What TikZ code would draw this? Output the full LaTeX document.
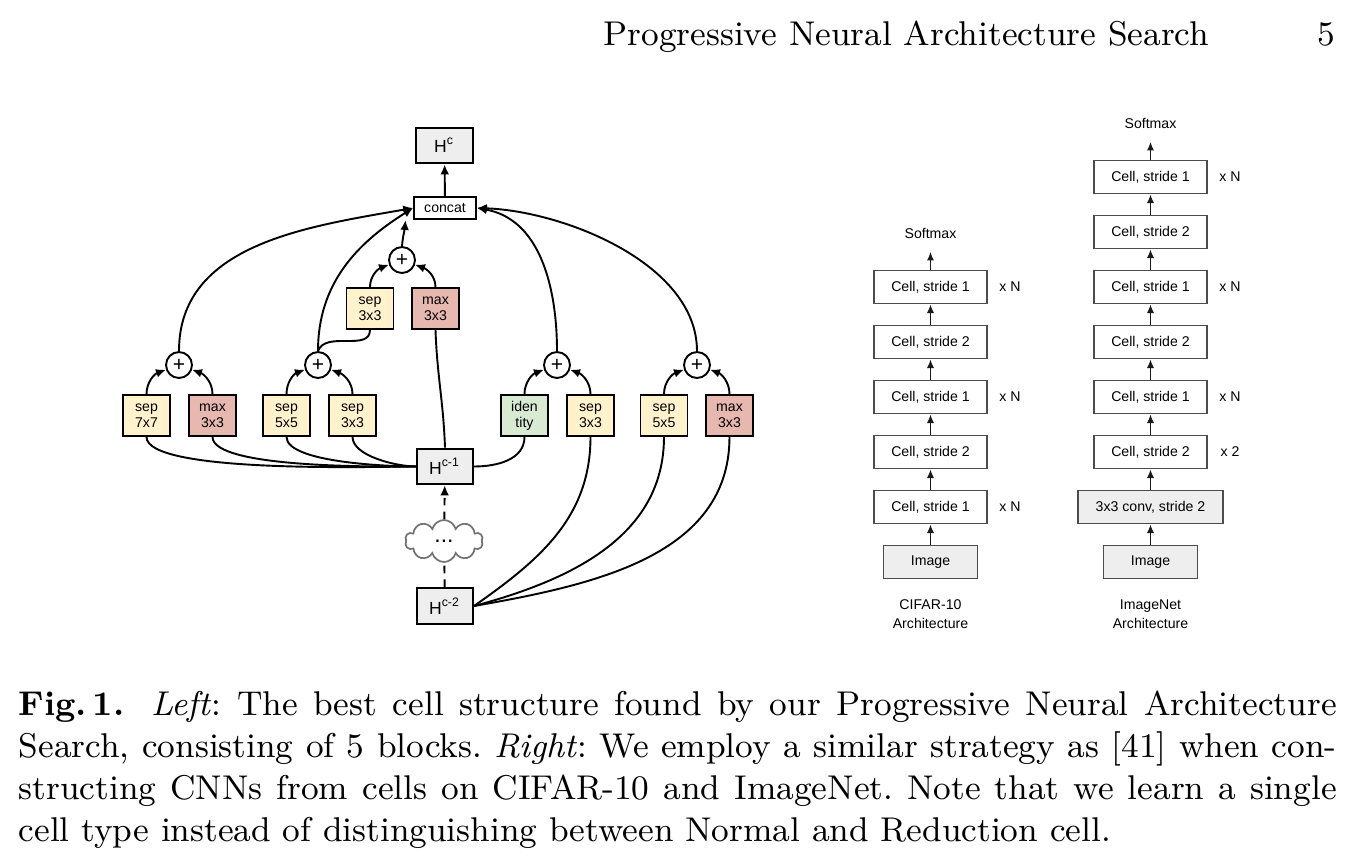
\documentclass[tikz,border=0pt]{standalone}
\usepackage{fontspec}
\newfontfamily\arial{Liberation Sans}
\usepackage{tikz}
\usetikzlibrary{arrows.meta,shapes.symbols}

\definecolor{sepfill}{HTML}{FFF2CC}
\definecolor{maxfill}{HTML}{E6B8AF}
\definecolor{idfill}{HTML}{D9EAD3}
\definecolor{hfill}{HTML}{EEEEEE}

\begin{document}
\begin{tikzpicture}[
	x=0.262pt, y=0.262pt,
	font=\arial\fontsize{3.7}{4.2}\selectfont,
	op/.style={draw, line width=0.5pt, align=center, minimum width=12.3pt, minimum height=10.7pt, inner sep=0pt},
	sepop/.style={op, fill=sepfill},
	maxop/.style={op, fill=maxfill},
	idop/.style={op, fill=idfill},
	hbox/.style={draw, line width=0.5pt, fill=hfill, minimum width=14.7pt, minimum height=9.4pt, inner sep=0pt, font=\arial\fontsize{4.6}{5}\selectfont},
	catbox/.style={draw, line width=0.5pt, fill=white, minimum width=16.2pt, minimum height=5.8pt, inner sep=0pt},
	add/.style={draw, circle, line width=0.5pt, fill=white, minimum size=6.8pt, inner sep=0pt, font=\arial\fontsize{5.5}{5.5}\selectfont},
	dotcloud/.style={cloud, cloud puffs=10, aspect=2, draw=black!55, line width=0.45pt, fill=white, minimum width=20.4pt, minimum height=11pt, inner sep=0pt, font=\arial\fontsize{6}{6}\selectfont},
	cell/.style={draw=black!70, line width=0.45pt, minimum width=29.6pt, minimum height=8.6pt, inner sep=0pt},
	inbox/.style={cell, fill=hfill},
	arr/.style={-{Latex[length=2.6pt,width=2.3pt]}, line width=0.5pt},
	link/.style={line width=0.5pt},
	up/.style={-{Latex[length=2.3pt,width=1.9pt]}, line width=0.5pt, black!90},
	serif/.style={font=\normalfont\small, inner sep=0pt}
]
\useasboundingbox (0,0) rectangle (1356,-856);

% running head
\node[serif, anchor=base east] (runhead) at (1210,-45) {Progressive Neural Architecture Search};
\node[serif, anchor=base east] (pagenum) at (1336,-45) {5};

% left: cell
\node[hbox] (hc) at (444.5,-145.5) {H\textsuperscript{c}};
\node[catbox] (concat) at (445,-208) {concat};
\node[add] (pu) at (402,-260) {+};
\node[sepop] (su) at (370,-308.5) {sep\\3x3};
\node[maxop] (mu) at (435.5,-308.5) {max\\3x3};
\node[add] (p1) at (179,-365) {+};
\node[add] (p2) at (318,-365) {+};
\node[add] (p3) at (557,-365) {+};
\node[add] (p4) at (697,-365) {+};
\node[sepop] (sa) at (146.5,-415.5) {sep\\7x7};
\node[maxop] (ma) at (212.5,-415.5) {max\\3x3};
\node[sepop] (sb) at (286.5,-415.5) {sep\\5x5};
\node[sepop] (sc) at (352.5,-415.5) {sep\\3x3};
\node[idop] (id) at (524.5,-415.5) {iden\\tity};
\node[sepop] (sd) at (590.5,-415.5) {sep\\3x3};
\node[sepop] (se) at (664,-415.5) {sep\\5x5};
\node[maxop] (mb) at (729.5,-415.5) {max\\3x3};
\node[hbox] (h1) at (445,-466.5) {H\textsuperscript{c-1}};
\node[dotcloud] (dots) at (444,-541) {...};
\node[hbox] (h2) at (445,-606) {H\textsuperscript{c-2}};

% inputs
\draw[link] (h1.west) to[out=180,in=-90,looseness=0.35] (sa.south);
\draw[link] (h1.west) to[out=180,in=-90,looseness=0.4] (ma.south);
\draw[link] (h1.west) to[out=180,in=-90,looseness=0.5] (sb.south);
\draw[link] (h1.west) to[out=180,in=-90,looseness=0.7] (sc.south);
\draw[link] (h1.north) to[out=92,in=-88] (mu.south);
\draw[link] (h1.east) to[out=0,in=-90] (id.south);
\draw[link] (h2.east) to[out=35,in=-90] (sd.south);
\draw[link] (h2.east) to[out=15,in=-90] (se.south);
\draw[link] (h2.east) to[out=10,in=-90] (mb.south);
\draw[link] (p2.north) to[out=70,in=-90] (su.south);
\draw[link, dash pattern=on 2pt off 1.6pt] (h2) -- (dots);
\draw[arr, dash pattern=on 2pt off 1.6pt] (dots) -- (h1);

% blocks
\draw[arr] (sa.north) to[out=90,in=200] (p1);
\draw[arr] (ma.north) to[out=90,in=-20] (p1);
\draw[arr] (sb.north) to[out=90,in=200] (p2);
\draw[arr] (sc.north) to[out=90,in=-20] (p2);
\draw[arr] (id.north) to[out=90,in=200] (p3);
\draw[arr] (sd.north) to[out=90,in=-20] (p3);
\draw[arr] (se.north) to[out=90,in=200] (p4);
\draw[arr] (mb.north) to[out=90,in=-20] (p4);
\draw[arr] (su.north) to[out=90,in=200] (pu);
\draw[arr] (mu.north) to[out=90,in=-20] (pu);

% outputs
\draw[arr] (p1.north) to[out=90,in=190] (concat.west);
\draw[arr] (p2.north) to[out=90,in=212] (concat.west);
\draw[arr] (pu.north) to[out=85,in=-95] ([xshift=-2pt]concat.south west);
\draw[arr] (p3.north) to[out=90,in=-10] (concat.east);
\draw[arr] (p4.north) to[out=90,in=-2,looseness=0.85] (concat.east);
\draw[arr] (concat) -- (hc);

% right: CIFAR-10
\node (csoft) at (930.5,-233) {Softmax};
\node[cell] (c5) at (930.5,-287) {Cell, stride 1};
\node[cell] (c4) at (930.5,-342) {Cell, stride 2};
\node[cell] (c3) at (930.5,-397) {Cell, stride 1};
\node[cell] (c2) at (930.5,-452) {Cell, stride 2};
\node[cell] (c1) at (930.5,-507) {Cell, stride 1};
\node[inbox, minimum width=24.6pt] (cimg) at (930.5,-562) {Image};
\node[align=center, font=\arial\fontsize{3.7}{5}\selectfont] (ctitle) at (930.5,-614.5) {CIFAR-10\\Architecture};
\node (cn5) at (1010,-287) {x N};
\node (cn3) at (1010,-397) {x N};
\node (cn1) at (1010,-507) {x N};
\draw[up] (cimg) -- (c1);
\draw[up] (c1) -- (c2);
\draw[up] (c2) -- (c3);
\draw[up] (c3) -- (c4);
\draw[up] (c4) -- (c5);
\draw[up] (c5) -- (csoft);

% right: ImageNet
\node (isoft) at (1150.5,-123) {Softmax};
\node[cell] (i6) at (1150.5,-177) {Cell, stride 1};
\node[cell] (i5) at (1150.5,-232) {Cell, stride 2};
\node[cell] (i4) at (1150.5,-287) {Cell, stride 1};
\node[cell] (i3) at (1150.5,-342) {Cell, stride 2};
\node[cell] (i2) at (1150.5,-397) {Cell, stride 1};
\node[cell] (i1) at (1150.5,-452) {Cell, stride 2};
\node[inbox, minimum width=38pt] (iconv) at (1150.5,-507) {3x3 conv, stride 2};
\node[inbox, minimum width=24.6pt] (iimg) at (1150.5,-562) {Image};
\node[align=center, font=\arial\fontsize{3.7}{5}\selectfont] (ititle) at (1150.5,-614.5) {ImageNet\\Architecture};
\node (in6) at (1230,-177) {x N};
\node (in4) at (1230,-287) {x N};
\node (in2) at (1230,-397) {x N};
\node (in1) at (1230,-452) {x 2};
\draw[up] (iimg) -- (iconv);
\draw[up] (iconv) -- (i1);
\draw[up] (i1) -- (i2);
\draw[up] (i2) -- (i3);
\draw[up] (i3) -- (i4);
\draw[up] (i4) -- (i5);
\draw[up] (i5) -- (i6);
\draw[up] (i6) -- (isoft);

% caption
\node[serif, anchor=north west, text width=345.3pt, align=justify] (caption) at (18,-690) {\frenchspacing\textbf{Fig.\,1.}\hspace{7pt}\textit{Left}: The best cell structure found by our Progressive Neural Architecture\linebreak Search, consisting of 5 blocks. \textit{Right}: We employ a similar strategy as [41] when con-\linebreak structing CNNs from cells on CIFAR-10 and ImageNet. Note that we learn a single\linebreak cell type instead of distinguishing between Normal and Reduction cell.};
\end{tikzpicture}
\end{document}
